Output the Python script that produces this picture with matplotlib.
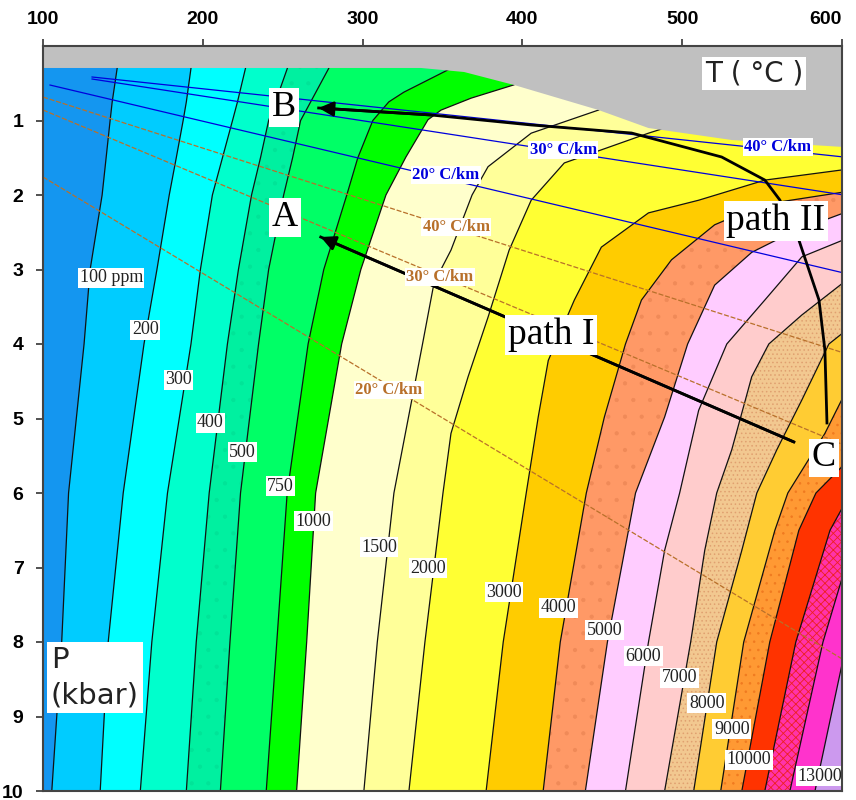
import matplotlib.pyplot as plt

# ppm levels of the contours and the band colour above each of them
levels = [100, 200, 300, 400, 500, 750, 1000, 1500, 2000, 3000, 4000, 5000,
          6000, 7000, 8000, 9000, 10000, 11000, 12000, 13000]
base_color = '#1496f0'
band_colors = ['#00ccff', '#00ffff', '#00ffcc', '#00f0a0', '#00ff66', '#00ff00',
               '#ffffcc', '#ffff99', '#ffff33', '#ffcc00', '#ff9966', '#ffccff',
               '#ffcccc', '#f2c890', '#ffcc33', '#ff9933', '#ff3300', '#ff33aa',
               '#ff33cc', '#cc99ee']
band_hatch = [None, None, None, '.', None, None, None, None, None, None, '.',
              None, None, '....', None, '..', None, 'xxxx', None, None]
hatch_cols = ['none', 'none', 'none', '#00e498', 'none', 'none', 'none', 'none',
              'none', 'none', '#f08a58', 'none', 'none', '#e0a070', 'none',
              '#f07a20', 'none', '#ee2020', 'none', 'none']

# contour lines: T (deg C) at pressures P (kbar)
P_low = [0, 0.3, 0.75, 1, 1.5, 2, 3, 4, 6, 8, 10]
T_100 = [148.3, 146.4, 143.3, 142.0, 139.5, 137.0, 129.5, 125.7, 116.0, 111.7, 105.5]
T_200 = [194.1, 192.6, 189.7, 187.7, 183.4, 179.0, 171.3, 163.2, 150.2, 140.8, 135.8]
T_300 = [229.9, 226.7, 221.7, 218.6, 212.3, 206.0, 198.5, 192.6, 177.9, 168.1, 160.9]
T_400 = [256.2, 252.9, 245.5, 241.2, 236.1, 230.5, 222.3, 215.4, 204.0, 195.9, 189.7]
T_500 = [283.2, 278.8, 267.5, 261.2, 256.2, 250.6, 241.2, 234.9, 223.6, 217.0, 211.0]
P_750 = [0, 0.3, 0.62, 0.75, 1, 1.5, 2, 3, 4, 6, 8, 10]
T_750 = [380.4, 355.3, 325.8, 316.4, 306.4, 297.0, 290.1, 275.7, 265.9, 252.8, 246.3, 239.7]
P_1000 = [0, 0.52, 0.70, 0.86, 0.99, 1.49, 2.0, 3.0, 4.0, 6.0, 8.0, 10.0]
T_1000 = [424.3, 394.9, 367.9, 349.1, 340.9, 327.1, 314.6, 298.9, 286.9, 270.6, 265.0, 258.7]
P_1500 = [0.46, 0.86, 1.17, 1.62, 2.0, 2.74, 3.18, 4.0, 6.0, 8.0, 10.0]
T_1500 = [480.8, 447.6, 405.5, 378.5, 368.5, 355.3, 344.7, 337.5, 319.6, 309.2, 300.8]
P_2000 = [0.86, 1.17, 1.57, 2.07, 2.74, 3.64, 4.44, 5.20, 6.0, 8.0, 10.0]
T_2000 = [524.7, 478.9, 426.2, 405.5, 391.7, 378.5, 366.0, 355.3, 350.3, 339.0, 329.0]
P_3000 = [1.57, 1.66, 1.80, 2.07, 2.24, 2.70, 3.41, 4.22, 4.98, 6.0, 8.0, 10.0]
T_3000 = [625.1, 601.2, 551.7, 510.3, 478.9, 449.4, 432.5, 416.2, 409.9, 402.4, 388.0, 377.3]
P_4000 = [1.87, 1.96, 2.13, 2.40, 2.87, 3.41, 4.0, 4.98, 6.0, 8.0, 10.0]
T_4000 = [625.1, 601.2, 549.8, 520.3, 493.3, 474.5, 464.5, 451.3, 440.0, 423.7, 413.0]
P_5000 = [2.18, 2.24, 2.50, 2.77, 3.21, 4.0, 4.98, 6.0, 8.0, 10.0]
T_5000 = [625.1, 601.2, 568.6, 543.5, 520.3, 503.4, 489.0, 470.8, 453.2, 439.4]
P_6000 = [2.54, 2.60, 2.83, 3.41, 4.0, 4.89, 6.0, 6.77, 8.0, 10.0]
T_6000 = [625.1, 601.2, 574.9, 551.7, 527.9, 510.3, 498.4, 489.0, 478.9, 464.5]
P_7000 = [3.07, 3.17, 3.61, 4.0, 4.44, 5.42, 6.0, 6.77, 8.0, 10.0]
T_7000 = [625.1, 601.2, 574.9, 554.2, 543.5, 531.0, 521.6, 514.1, 505.3, 489.0]
P_8000 = [3.71, 3.84, 4.0, 4.75, 5.42, 6.0, 6.77, 8.0, 10.0]
T_8000 = [625.1, 601.2, 591.8, 574.9, 559.2, 546.7, 537.3, 521.6, 507.2]
P_9000 = [4.55, 4.69, 5.20, 6.0, 6.50, 8.0, 10.0]
T_9000 = [625.1, 601.2, 589.3, 566.1, 558.0, 538.5, 524.1]
P_10000 = [5.49, 5.62, 6.0, 6.50, 8.0, 10.0]
T_10000 = [625.1, 601.2, 583.7, 573.0, 554.8, 537.3]
P_11000 = [6.03, 6.16, 6.50, 8.0, 10.0]
T_11000 = [625.1, 601.2, 592.5, 571.1, 551.7]
P_12000 = [6.90, 7.06, 8.0, 10.0]
T_12000 = [625.1, 601.2, 588.1, 567.4]
P_13000 = [7.97, 8.18, 10.0]
T_13000 = [625.1, 601.2, 583.1]

contour_T = [T_100, T_200, T_300, T_400, T_500, T_750, T_1000, T_1500, T_2000,
             T_3000, T_4000, T_5000, T_6000, T_7000, T_8000, T_9000, T_10000,
             T_11000, T_12000, T_13000]
contour_P = [P_low, P_low, P_low, P_low, P_low, P_750, P_1000, P_1500, P_2000,
             P_3000, P_4000, P_5000, P_6000, P_7000, P_8000, P_9000, P_10000,
             P_11000, P_12000, P_13000]

# contour label positions (T, P)
clabel_text = ['100 ppm', '200', '300', '400', '500', '750', '1000', '1500', '2000',
               '3000', '4000', '5000', '6000', '7000', '8000', '9000', '10000', '13000']
clabel_T = [142.7, 164.0, 184.7, 204.8, 224.8, 248.7, 269.4, 310.2, 340.9,
            388.6, 422.5, 451.3, 475.8, 498.4, 515.3, 531.0, 541.7, 586.2]
clabel_P = [3.11, 3.81, 4.48, 5.06, 5.45, 5.91, 6.38, 6.73, 7.01,
            7.33, 7.54, 7.84, 8.19, 8.48, 8.82, 9.17, 9.58, 9.80]

# region above the data (no solution), grey
gray_T = [100, 100, 336.5, 363.5, 394.9, 447.6, 478.9, 531.0, 601.2, 610, 610]
gray_P = [-0.5, 0.295, 0.295, 0.349, 0.524, 0.859, 1.101, 1.262, 1.356, 1.356, -0.5]

# geotherms: end points (T, P)
geo_names = ['40° C/km', '30° C/km', '20° C/km', '40° C/km', '30° C/km', '20° C/km']
geo_T0 = [130.7, 130.7, 104.4, 100, 100, 100]
geo_P0 = [0.416, 0.443, 0.524, 0.685, 0.859, 1.758]
geo_T1 = [601.2, 601.2, 601.2, 601.2, 601.2, 601.2]
geo_P1 = [1.490, 2.000, 3.047, 4.121, 5.356, 8.242]
geo_color = ['#0000dd', '#0000dd', '#0000dd', '#b8702a', '#b8702a', '#b8702a']
geo_lab_T = [559.8, 425.6, 352.2, 358.5, 348.4, 316.4]
geo_lab_P = [1.356, 1.396, 1.732, 2.430, 3.101, 4.618]

# P-T paths
path1_T = [569.9, 273.8]
path1_P = [5.315, 2.564]
path2_T = [590.6, 589.3, 585.6, 573.0, 565.5, 561.1, 551.7, 524.7, 468.3, 405.5, 342.8, 272.5]
path2_P = [5.060, 4.081, 3.409, 2.604, 2.268, 2.067, 1.799, 1.490, 1.168, 1.060, 0.926, 0.832]

plt.rcParams['hatch.linewidth'] = 0.6

fig = plt.figure(figsize=(8.56, 8.0), dpi=100)
ax = fig.add_axes([43 / 856, 1 - 791 / 800, 799 / 856, 745 / 800])
ax.set_facecolor(base_color)

# coloured bands: fill to the right of each contour, low to high
for T, P, col, h, hc in zip(contour_T, contour_P, band_colors, band_hatch, hatch_cols):
    xs = list(T) + [T[-1], 700, 700]
    ys = list(P) + [10.5, 10.5, P[0]]
    ax.fill(xs, ys, facecolor=col, edgecolor=hc, lw=0, hatch=h, zorder=1)

for T, P in zip(contour_T, contour_P):
    ax.plot(T, P, color='#111111', lw=0.9, zorder=2)

# geotherms
for i in range(len(geo_names)):
    ls = '-' if i < 3 else (0, (4, 1.5))
    ax.plot([geo_T0[i], geo_T1[i]], [geo_P0[i], geo_P1[i]], color=geo_color[i],
            lw=0.9, ls=ls, zorder=3)

ax.fill(gray_T, gray_P, facecolor='#c0c0c0', edgecolor='none', zorder=4)

# paths
ax.plot(path1_T, path1_P, color='k', lw=2.0, zorder=5)
ax.annotate('', xy=(path1_T[-1], path1_P[-1]), xytext=(path1_T[-2], path1_P[-2]),
            arrowprops=dict(arrowstyle='-|>', color='k', lw=2.0, mutation_scale=22,
                            shrinkA=0, shrinkB=0), zorder=5)
ax.plot(path2_T, path2_P, color='k', lw=2.0, zorder=5)
ax.annotate('', xy=(path2_T[-1], path2_P[-1]), xytext=(path2_T[-2], path2_P[-2]),
            arrowprops=dict(arrowstyle='-|>', color='k', lw=2.0, mutation_scale=22,
                            shrinkA=0, shrinkB=0), zorder=5)

white = dict(facecolor='white', edgecolor='none', pad=1.0)
for s, t, p in zip(clabel_text, clabel_T, clabel_P):
    ax.text(t, p, s, fontsize=13, family='Liberation Serif', ha='center', va='center',
            color='#222222', bbox=white, zorder=6)

for i in range(len(geo_names)):
    ax.text(geo_lab_T[i], geo_lab_P[i], geo_names[i], fontsize=12, fontweight='bold',
            family='Liberation Serif', color=geo_color[i], ha='center', va='center',
            bbox=white, zorder=6)

big = dict(facecolor='white', edgecolor='none', pad=2.0)
for s, t, p in [('B', 250.6, 0.83), ('A', 251.2, 2.30), ('C', 588.7, 5.53)]:
    ax.text(t, p, s, fontsize=26, family='Liberation Serif', ha='center', va='center',
            bbox=big, zorder=6)
ax.text(418.1, 3.88, 'path I', fontsize=27, family='Liberation Serif', ha='center',
        va='center', bbox=big, zorder=6)
ax.text(558.6, 2.35, 'path II', fontsize=27, family='Liberation Serif', ha='center',
        va='center', bbox=big, zorder=6)
ax.text(544.8, 0.37, 'T ( °C )', fontsize=20, family='DejaVu Sans', ha='center',
        va='center', color='#222222', bbox=big, zorder=6)
ax.text(105.0, 8.48, 'P\n(kbar)', fontsize=21, family='DejaVu Sans', ha='left',
        va='center', color='#222222', linespacing=1.3,
        bbox=dict(facecolor='white', edgecolor='none', pad=3.0), zorder=6)

ax.set_xlim(100, 600)
ax.set_ylim(10, 0)
ax.xaxis.tick_top()
ax.set_xticks([100, 200, 300, 400, 500, 600])
ax.set_yticks(range(1, 11))
ax.tick_params(axis='x', length=5, width=1.2, color='#333333', pad=8)
ax.tick_params(axis='y', length=5, width=1.2, color='#333333', pad=9)
for lab in ax.get_xticklabels() + ax.get_yticklabels():
    lab.set_fontfamily('Liberation Sans')
    lab.set_fontweight('bold')
    lab.set_fontsize(14)
ax.get_xticklabels()[-1].set_horizontalalignment('right')
ax.get_xticklabels()[-1].set_x(601)
for sp in ax.spines.values():
    sp.set_color('#444444')
    sp.set_linewidth(1.5)
    sp.set_zorder(7)

fig.savefig('out.png', dpi=100)
